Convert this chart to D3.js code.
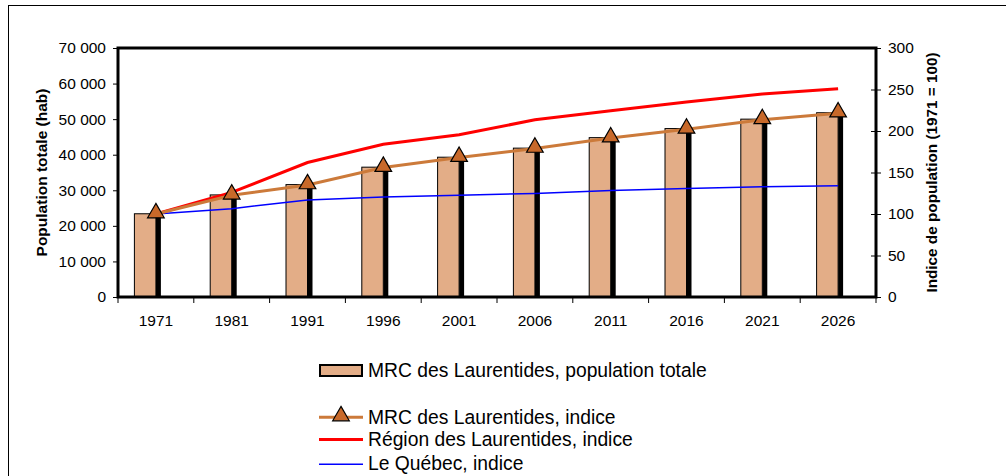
<!DOCTYPE html>
<html>
<head>
<meta charset="utf-8">
<script src="https://cdn.jsdelivr.net/npm/d3@7"></script>
<style>
  body { margin: 0; background: #fff; }
  svg { font-family: "Liberation Sans", Arial, sans-serif; }
</style>
</head>
<body>
<svg width="1006" height="476"></svg>
<script>
// données
const years = ['1971', '1981', '1991', '1996', '2001', '2006', '2011', '2016', '2021', '2026'];
const population = [23400, 28700, 31600, 36500, 39300, 41850, 44800, 47350, 50000, 51800];
const indiceMRC = [100, 122.6, 135, 156, 168, 179, 191.5, 202, 213.5, 221.5];
const indiceRegion = [100, 126, 162, 184, 195.5, 213.5, 224.5, 235, 244.5, 251];
const indiceQuebec = [100, 106.4, 117, 120.5, 122.5, 124.8, 128.4, 130.8, 132.9, 134];
const leftTicks = [0, 10000, 20000, 30000, 40000, 50000, 60000, 70000];
const rightTicks = [0, 50, 100, 150, 200, 250, 300];

const svg = d3.select('svg');

const barColor = '#E3AD87';
const mrcColor = '#CC7A3A';
const triColor = '#C8692A';
const regionColor = '#FF0000';
const quebecColor = '#0000FF';
const tickFont = 15.5;

// cadre extérieur
svg.append('rect')
  .attr('x', 8.5).attr('y', 5.5)
  .attr('width', 1010).attr('height', 480)
  .attr('fill', 'none').attr('stroke', '#000').attr('stroke-width', 1);

const plot = { left: 118, right: 876, top: 48, bottom: 297 };

const x = d3.scaleBand().domain(years).range([plot.left, plot.right]).padding(0);
const yL = d3.scaleLinear().domain([0, 70000]).range([plot.bottom, plot.top]);
const yR = d3.scaleLinear().domain([0, 300]).range([plot.bottom, plot.top]);
const cx = (i) => x(years[i]) + x.bandwidth() / 2;

const fmt = d => d3.format(',')(d).replace(/,/g, ' ');

// axe gauche
const axL = svg.append('g')
  .attr('transform', `translate(${plot.left},0)`)
  .call(d3.axisLeft(yL).tickValues(leftTicks).tickFormat(fmt).tickSize(5).tickPadding(7));
axL.select('.domain').remove();
axL.selectAll('text').attr('font-size', tickFont).attr('fill', '#000').attr('font-family', 'Liberation Sans, Arial, sans-serif');

// axe droit (traits croisés)
const axR = svg.append('g')
  .attr('transform', `translate(${plot.right},0)`)
  .call(d3.axisRight(yR).tickValues(rightTicks).tickSize(5).tickPadding(7));
axR.select('.domain').remove();
axR.selectAll('.tick line').attr('x1', -5);
axR.selectAll('text').attr('font-size', tickFont).attr('fill', '#000').attr('font-family', 'Liberation Sans, Arial, sans-serif');

// axe X (traits aux limites des catégories)
svg.append('g').selectAll('line')
  .data(years.concat(['end']))
  .join('line')
  .attr('x1', (d, i) => plot.left + i * x.bandwidth())
  .attr('x2', (d, i) => plot.left + i * x.bandwidth())
  .attr('y1', plot.bottom).attr('y2', plot.bottom + 6)
  .attr('stroke', '#000').attr('stroke-width', 1);

svg.append('g').selectAll('text')
  .data(years)
  .join('text')
  .attr('x', (d, i) => cx(i))
  .attr('y', 326)
  .attr('text-anchor', 'middle')
  .attr('font-size', tickFont)
  .text(d => d);

// barres
const bars = svg.append('g');
bars.selectAll('rect.shadow')
  .data(population)
  .join('rect')
  .attr('class', 'shadow')
  .attr('x', (d, i) => cx(i))
  .attr('y', d => yL(d) + 2)
  .attr('width', 5)
  .attr('height', d => plot.bottom - yL(d) - 2)
  .attr('fill', '#000');
bars.selectAll('rect.bar')
  .data(population)
  .join('rect')
  .attr('class', 'bar')
  .attr('x', (d, i) => cx(i) - 21.5)
  .attr('y', d => yL(d))
  .attr('width', 21.5)
  .attr('height', d => plot.bottom - yL(d))
  .attr('fill', barColor)
  .attr('stroke', '#000').attr('stroke-width', 1);

// lignes
const line = d3.line()
  .x((d, i) => cx(i))
  .y(d => yR(d));

svg.append('path').attr('d', line(indiceQuebec))
  .attr('fill', 'none').attr('stroke', quebecColor).attr('stroke-width', 1.5);
svg.append('path').attr('d', line(indiceRegion))
  .attr('fill', 'none').attr('stroke', regionColor).attr('stroke-width', 3);
svg.append('path').attr('d', line(indiceMRC))
  .attr('fill', 'none').attr('stroke', mrcColor).attr('stroke-width', 3);

const tri = d3.symbol().type(d3.symbolTriangle).size(120);
svg.append('g').selectAll('path')
  .data(indiceMRC)
  .join('path')
  .attr('d', tri)
  .attr('transform', (d, i) => `translate(${cx(i)},${yR(d) - 1})`)
  .attr('fill', triColor).attr('stroke', '#000').attr('stroke-width', 1.2);

// cadre du graphique
svg.append('rect')
  .attr('x', plot.left).attr('y', plot.top)
  .attr('width', plot.right - plot.left).attr('height', plot.bottom - plot.top)
  .attr('fill', 'none').attr('stroke', '#000').attr('stroke-width', 3);

// titres des axes
svg.append('text')
  .attr('transform', `translate(47,${(plot.top + plot.bottom) / 2}) rotate(-90)`)
  .attr('text-anchor', 'middle')
  .attr('font-size', 15.5).attr('font-weight', 'bold')
  .text('Population totale (hab)');
svg.append('text')
  .attr('transform', `translate(937,${(plot.top + plot.bottom) / 2}) rotate(-90)`)
  .attr('text-anchor', 'middle')
  .attr('font-size', 15.3).attr('font-weight', 'bold')
  .text('Indice de population (1971 = 100)');

// légende
const lx = 319, lw = 44, tx = 368;
const legend = svg.append('g').attr('font-size', 19.3);
legend.append('rect')
  .attr('x', lx + 1).attr('y', 365).attr('width', lw - 2).attr('height', 11)
  .attr('fill', barColor).attr('stroke', '#000').attr('stroke-width', 2);
legend.append('text').attr('x', tx).attr('y', 377).text('MRC des Laurentides, population totale');

legend.append('line').attr('x1', lx).attr('x2', lx + lw).attr('y1', 417.3).attr('y2', 417.3)
  .attr('stroke', mrcColor).attr('stroke-width', 3);
legend.append('path').attr('d', tri)
  .attr('transform', `translate(${lx + lw / 2},416)`)
  .attr('fill', triColor).attr('stroke', '#000').attr('stroke-width', 1.2);
legend.append('text').attr('x', tx).attr('y', 424).text('MRC des Laurentides, indice');

legend.append('line').attr('x1', lx).attr('x2', lx + lw).attr('y1', 439.5).attr('y2', 439.5)
  .attr('stroke', regionColor).attr('stroke-width', 3);
legend.append('text').attr('x', tx).attr('y', 446).text('Région des Laurentides, indice');

legend.append('line').attr('x1', lx).attr('x2', lx + lw).attr('y1', 464.3).attr('y2', 464.3)
  .attr('stroke', quebecColor).attr('stroke-width', 1.5);
legend.append('text').attr('x', tx).attr('y', 469.5).text('Le Québec, indice');
</script>
</body>
</html>
